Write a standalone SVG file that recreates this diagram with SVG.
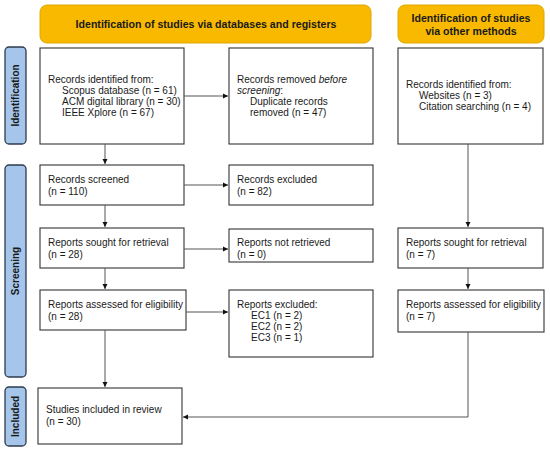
<svg xmlns="http://www.w3.org/2000/svg" width="550" height="451" viewBox="0 0 550 451">
<style>
text{font-family:"Liberation Sans",Arial,sans-serif;font-size:10px;fill:#1a1a1a}
.banner{fill:#F8B900;stroke:#E0A800;stroke-width:1}
.bt{font-weight:bold;font-size:10.6px;text-anchor:middle}
.side{fill:#A5C6EA;stroke:#2E3B4E;stroke-width:1.3}
.st{font-weight:bold;font-size:10px;text-anchor:middle;fill:#1a1a1a}
.box{fill:#fff;stroke:#333;stroke-width:1.1}
.c{fill:none;stroke:#555;stroke-width:1}
</style>
<defs>
<marker id="ah" markerWidth="6" markerHeight="6" refX="5" refY="3" orient="auto" markerUnits="userSpaceOnUse">
<path d="M0,0.5 L5,3 L0,5.5 Z" fill="#111"/>
</marker>
</defs>
<rect width="550" height="451" fill="#fff"/>
<g id="banner-db"><rect class="banner" x="40" y="5" width="331" height="38" rx="7"/><text class="bt" x="206" y="28">Identification of studies via databases and registers</text></g>
<g id="banner-other"><rect class="banner" x="398" y="5" width="146" height="38" rx="7"/><text class="bt" x="471" y="22">Identification of studies</text><text class="bt" x="471" y="35">via other methods</text></g>
<g id="side-identification"><rect class="side" x="5" y="47" width="21" height="97" rx="4"/><text class="st" transform="translate(19,95.5) rotate(-90)">Identification</text></g>
<g id="side-screening"><rect class="side" x="5" y="165" width="21" height="212" rx="4"/><text class="st" transform="translate(19,271) rotate(-90)">Screening</text></g>
<g id="side-included"><rect class="side" x="5" y="387" width="21" height="59" rx="4"/><text class="st" transform="translate(19,416.5) rotate(-90)">Included</text></g>
<g id="records-identified"><rect class="box" x="40" y="48" width="144" height="96"/><text x="48" y="83">Records identified from:</text><text x="62" y="94">Scopus database (n = 61)</text><text x="62" y="105">ACM digital library (n = 30)</text><text x="62" y="116">IEEE Xplore (n = 67)</text></g>
<g id="records-removed"><rect class="box" x="229" y="48" width="144" height="96"/><text x="237" y="83">Records removed <tspan font-style="italic">before</tspan></text><text x="237" y="94"><tspan font-style="italic">screening</tspan>:</text><text x="250" y="105">Duplicate records</text><text x="250" y="116">removed  (n = 47)</text></g>
<g id="other-identified"><rect class="box" x="398" y="48" width="145" height="96"/><text x="406" y="88">Records identified from:</text><text x="419" y="99">Websites (n = 3)</text><text x="419" y="110">Citation searching (n = 4)</text></g>
<g id="records-screened"><rect class="box" x="40" y="165" width="144" height="40"/><text x="48" y="183">Records screened</text><text x="48" y="195">(n = 110)</text></g>
<g id="records-excluded"><rect class="box" x="229" y="165" width="144" height="40"/><text x="237" y="183">Records excluded</text><text x="237" y="195">(n = 82)</text></g>
<g id="reports-sought"><rect class="box" x="40" y="228" width="144" height="40"/><text x="48" y="246">Reports sought for retrieval</text><text x="48" y="258">(n = 28)</text></g>
<g id="reports-not-retrieved"><rect class="box" x="229" y="229" width="144" height="33"/><text x="237" y="246">Reports not retrieved</text><text x="237" y="258">(n = 0)</text></g>
<g id="other-sought"><rect class="box" x="398" y="228" width="145" height="40"/><text x="406" y="246">Reports sought for retrieval</text><text x="406" y="258">(n = 7)</text></g>
<g id="reports-assessed"><rect class="box" x="40" y="290" width="146" height="40"/><text x="48" y="308">Reports assessed for eligibility</text><text x="48" y="320">(n = 28)</text></g>
<g id="reports-excluded"><rect class="box" x="229" y="290" width="144" height="67"/><text x="237" y="308">Reports excluded:</text><text x="251" y="319">EC1 (n = 2)</text><text x="251" y="330">EC2 (n = 2)</text><text x="251" y="341">EC3 (n = 1)</text></g>
<g id="other-assessed"><rect class="box" x="398" y="290" width="146" height="42"/><text x="406" y="308">Reports assessed for eligibility</text><text x="406" y="320">(n = 7)</text></g>
<g id="studies-included"><rect class="box" x="38" y="388" width="144" height="56"/><text x="46" y="413">Studies included in review</text><text x="46" y="425">(n = 30)</text></g>
<g id="connectors">
<path class="c" d="M184,96 H228" marker-end="url(#ah)"/>
<path class="c" d="M105,144 V164" marker-end="url(#ah)"/>
<path class="c" d="M184,185 H228" marker-end="url(#ah)"/>
<path class="c" d="M105,205 V227" marker-end="url(#ah)"/>
<path class="c" d="M184,249 H228" marker-end="url(#ah)"/>
<path class="c" d="M105,268 V289" marker-end="url(#ah)"/>
<path class="c" d="M186,312 H228" marker-end="url(#ah)"/>
<path class="c" d="M105,330 V387" marker-end="url(#ah)"/>
<path class="c" d="M468,144 V227" marker-end="url(#ah)"/>
<path class="c" d="M468,268 V289" marker-end="url(#ah)"/>
<path class="c" d="M468,332 V417 H183" marker-end="url(#ah)"/>
</g>
</svg>
